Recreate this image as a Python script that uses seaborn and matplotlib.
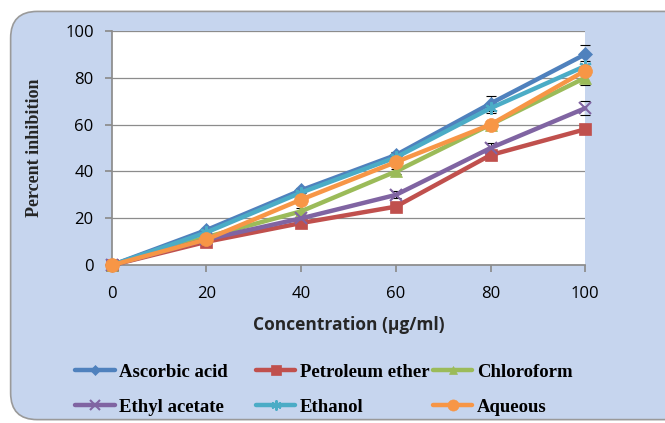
import pandas as pd
import matplotlib.pyplot as plt
import seaborn as sns
from matplotlib.patches import FancyBboxPatch

# Dados
concentracao = [0, 20, 40, 60, 80, 100]
series_nomes = ["Ascorbic acid", "Petroleum ether", "Chloroform",
                "Ethyl acetate", "Ethanol", "Aqueous"]
ascorbic = [0, 15, 32, 47, 69, 90]
petroleum = [0, 10, 18, 25, 47, 58]
chloroform = [0, 12, 23, 40, 60, 80]
ethyl = [0, 11, 20, 30, 50, 67]
ethanol = [0, 14, 31, 46, 67, 85]
aqueous = [0, 11, 28, 44, 60, 83]
# desvios (barras de erro)
err_ascorbic = [0, 1, 1, 1.5, 3, 4]
err_petroleum = [0, 0.5, 1, 1, 1, 1]
err_chloroform = [0, 0.5, 1.5, 1, 1.5, 3]
err_ethyl = [0, 0.5, 1, 1.5, 2, 3]
err_ethanol = [0, 0.5, 1, 1.5, 2, 2]
err_aqueous = [0, 0.5, 1, 1, 1.5, 2]

valores = [ascorbic, petroleum, chloroform, ethyl, ethanol, aqueous]
erros = [err_ascorbic, err_petroleum, err_chloroform, err_ethyl, err_ethanol, err_aqueous]

cores = ["#4F81BD", "#C0504D", "#9BBB59", "#8064A2", "#4BACC6", "#F79646"]
marcadores = ["D", "s", "^", "x", (6, 2, 0), "o"]
tamanhos = [7, 9, 8, 9, 9, 10]

df = pd.DataFrame({
    "conc": concentracao * len(series_nomes),
    "valor": sum(valores, []),
    "serie": sum([[n] * len(concentracao) for n in series_nomes], []),
})

sns.set_theme(style="white")

fig = plt.figure(figsize=(6.65, 4.23), dpi=100)
fig.patch.set_facecolor("white")
fundo = FancyBboxPatch((0.016, 0.008), 1.05, 0.965, boxstyle="round,pad=0,rounding_size=0.04",
                       transform=fig.transFigure, facecolor="#c6d5ee", edgecolor="#9a9a9a",
                       linewidth=1.2, zorder=-5, mutation_aspect=665 / 423)
fig.patches.append(fundo)

ax = fig.add_axes([0.168, 0.373, 0.712, 0.554])
ax.set_facecolor("white")

# barras de erro por baixo dos marcadores
for vals, errs in zip(valores, erros):
    xs = [c for c, e in zip(concentracao, errs) if e > 0]
    ys = [v for v, e in zip(vals, errs) if e > 0]
    es = [e for e in errs if e > 0]
    ax.errorbar(xs, ys, yerr=es, fmt="none", ecolor="black",
                elinewidth=0.8, capsize=3.5, capthick=0.8, zorder=2)

for nome, cor, mk, ms in zip(series_nomes, cores, marcadores, tamanhos):
    sub = df[df["serie"] == nome]
    sns.lineplot(data=sub, x="conc", y="valor", color=cor, marker=mk, markersize=ms,
                 markeredgecolor=cor, markeredgewidth=1.5 if mk in ("x", (6, 2, 0)) else 0.5,
                 linewidth=3.2, ax=ax, label=nome, zorder=3)

ax.set_xlim(0, 100)
ax.set_ylim(0, 100)
ax.set_xticks(concentracao)
ax.set_yticks([0, 20, 40, 60, 80, 100])
ax.grid(axis="y", color="#8c8c8c", linewidth=0.9)
ax.grid(axis="x", visible=False)
for s in ["top", "right"]:
    ax.spines[s].set_visible(False)
ax.spines["left"].set_color("#8c8c8c")
ax.spines["bottom"].set_color("#8c8c8c")
ax.tick_params(axis="both", direction="out", length=5, color="#8c8c8c",
               labelsize=12, labelcolor="black", left=True, bottom=True)
ax.tick_params(axis="x", pad=10)
ax.tick_params(axis="y", pad=8)
for lab in ax.get_xticklabels() + ax.get_yticklabels():
    lab.set_family("Open Sans")
for ln in ax.lines:
    ln.set_clip_on(False)

ax.set_xlabel("Concentration (µg/ml)", fontsize=12.5, fontweight="bold",
              family="Open Sans", labelpad=10)
ax.set_ylabel("Percent inhibition", fontsize=13, fontweight="bold",
              family="Liberation Serif", labelpad=16)

ax.get_legend().remove()
handles, labels = ax.get_legend_handles_labels()
# uma legenda por coluna, como no original
colunas = [(0, 3, 0.113), (1, 4, 0.385), (2, 5, 0.651)]
for a, b, x0 in colunas:
    leg = fig.legend([handles[a], handles[b]], [labels[a], labels[b]],
                     loc="upper left", bbox_to_anchor=(x0, 0.14), frameon=False,
                     prop={"family": "Liberation Serif", "weight": "bold", "size": 13.5},
                     handlelength=2.1, handletextpad=0.25, labelspacing=0.95,
                     borderpad=0, borderaxespad=0, markerscale=0.8)
    for t in leg.get_texts():
        t.set_color("black")

plt.savefig("out.png", dpi=100)
